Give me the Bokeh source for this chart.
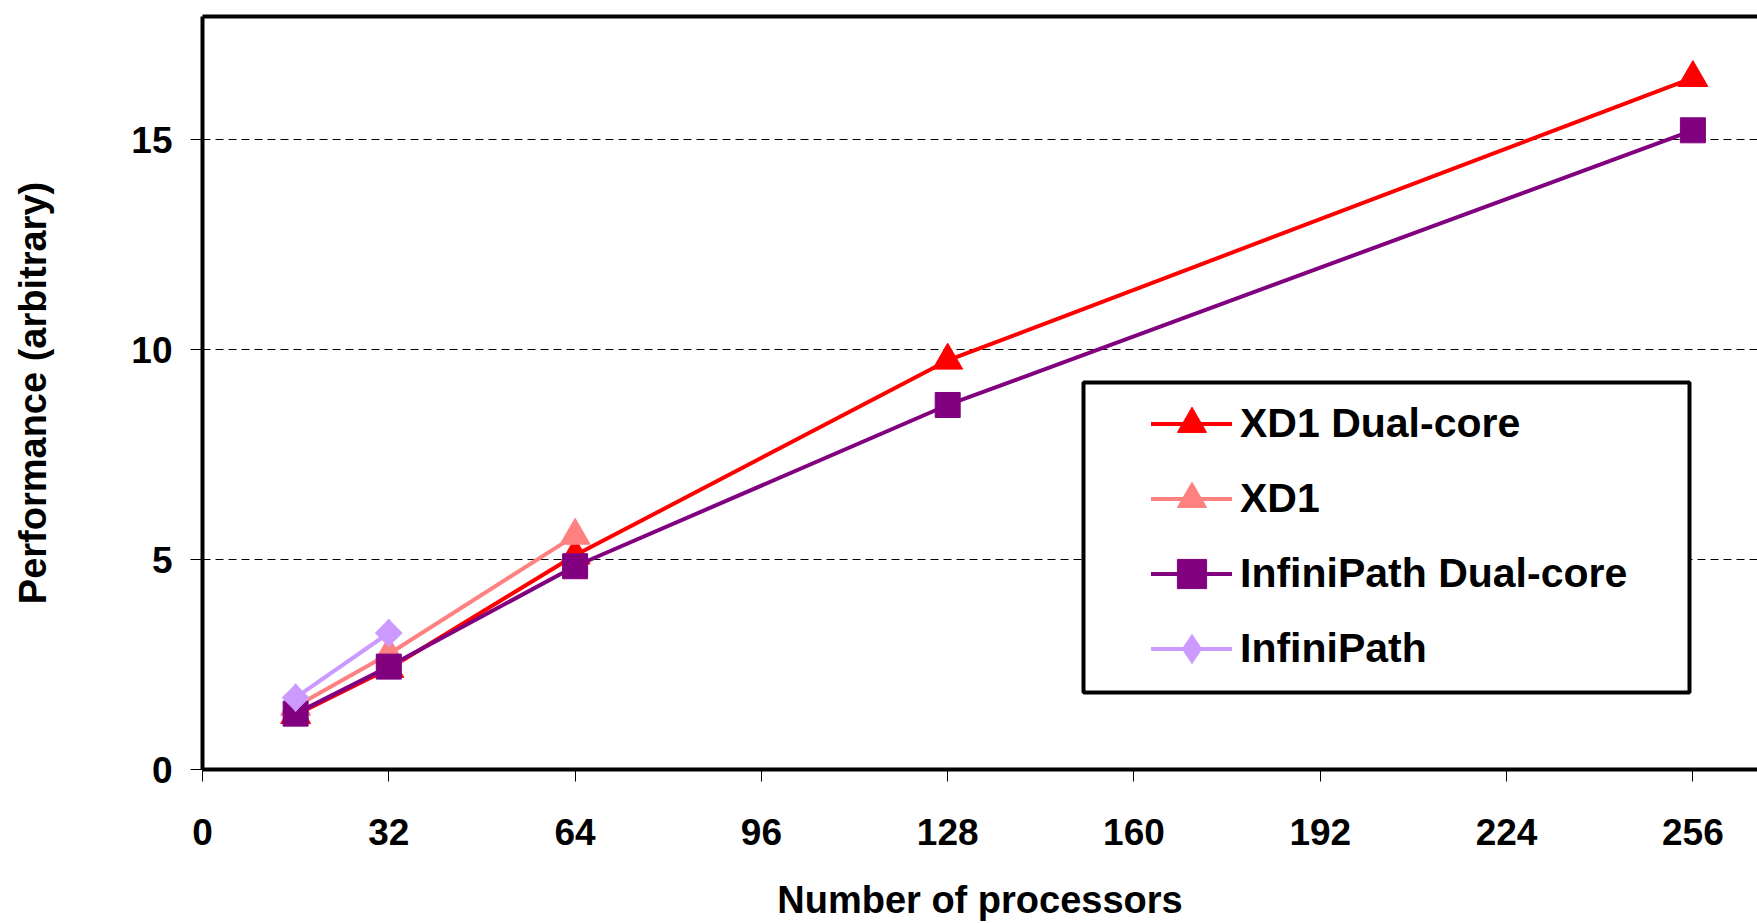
from bokeh.plotting import figure
from bokeh.models import Range1d, FixedTicker, LinearAxis, BoxAnnotation
from bokeh.embed import file_html
from bokeh.resources import INLINE

# ---- data ----
procs_dual = [16, 32, 64, 128, 256]
xd1_dual = [1.30, 2.40, 5.10, 9.74, 16.47]
ip_dual = [1.33, 2.45, 4.84, 8.68, 15.22]
procs_xd1 = [16, 32, 64]
xd1 = [1.50, 2.75, 5.57]
procs_ip = [16, 32]
ip = [1.71, 3.25]

x_ticks = [0, 32, 64, 96, 128, 160, 192, 224, 256]
y_ticks = [0, 5, 10, 15]

FONT = "Liberation Sans"

p = figure(width=1757, height=923, output_backend="svg", toolbar_location=None,
           x_range=Range1d(0, 267.1), y_range=Range1d(0, 17.93),
           min_border_left=202, min_border_right=0, min_border_top=16,
           min_border_bottom=153, x_axis_label="Number of processors",
           y_axis_label="Performance (arbitrary)")
p.outline_line_color = None
p.background_fill_color = "white"
p.border_fill_color = "white"

# axes
for ax in (p.xaxis[0], p.yaxis[0]):
    ax.axis_line_width = 4
    ax.axis_line_color = "black"
    ax.major_tick_line_color = "black"
    ax.major_tick_line_width = 1
    ax.major_tick_out = 12
    ax.major_tick_in = 0
    ax.minor_tick_line_color = None
    ax.major_label_text_font = FONT
    ax.major_label_text_font_style = "bold"
    ax.major_label_text_font_size = "37px"
    ax.major_label_text_color = "black"
    ax.axis_label_text_font = FONT
    ax.axis_label_text_font_style = "bold"
    ax.axis_label_text_color = "black"

p.xaxis[0].ticker = FixedTicker(ticks=x_ticks)
p.yaxis[0].ticker = FixedTicker(ticks=y_ticks)
p.xaxis[0].major_label_standoff = 37
p.xaxis[0].axis_label_standoff = 31
p.xaxis[0].axis_label_text_font_size = "38px"
p.yaxis[0].major_label_standoff = 18
p.yaxis[0].axis_label_standoff = 74
p.yaxis[0].axis_label_text_font_size = "38px"

top = LinearAxis(ticker=FixedTicker(ticks=[]), axis_line_width=4,
                 axis_line_color="black", major_tick_line_color=None,
                 minor_tick_line_color=None)
p.add_layout(top, "above")

p.xgrid.visible = False
p.ygrid.ticker = FixedTicker(ticks=[5, 10, 15])
p.ygrid.grid_line_color = "black"
p.ygrid.grid_line_width = 1
p.ygrid.grid_line_dash = "8 5"

# series
series = [
    ("XD1 Dual-core", procs_dual, xd1_dual, "#FF0000", "triangle", 30),
    ("XD1", procs_xd1, xd1, "#FF8080", "triangle", 30),
    ("InfiniPath Dual-core", procs_dual, ip_dual, "#800080", "square", 25),
    ("InfiniPath", procs_ip, ip, "#CC99FF", "diamond", 28),
]
for name, xs, ys, col, mk, sz in series:
    p.line(xs, ys, line_color=col, line_width=4, line_cap="round",
           line_join="round", legend_label=name)
    p.scatter(xs, ys, marker=mk, size=sz, fill_color=col, line_color=col,
              line_width=1, legend_label=name)
    if mk == "diamond":
        # wider diamond face (rotated square) drawn over the legend diamond
        p.scatter(xs, ys, marker="square", angle=0.7853982, size=19,
                  fill_color=col, line_color=col, line_width=1)

# legend frame
box = BoxAnnotation(left=881, right=1487, bottom=77, top=387,
                    left_units="screen", right_units="screen",
                    top_units="screen", bottom_units="screen",
                    fill_color="white", fill_alpha=1.0,
                    line_color="black", line_width=4, line_alpha=1.0)
p.add_layout(box)

leg = p.legend[0]
p.center.remove(leg)
p.add_layout(leg, "center")
leg.location = (949, 84)
leg.margin = 0
leg.padding = 0
leg.border_line_color = None
leg.background_fill_alpha = 0
leg.glyph_width = 81
leg.glyph_height = 73
leg.spacing = 2
leg.label_standoff = 8
leg.label_text_font = FONT
leg.label_text_font_style = "bold"
leg.label_text_font_size = "41px"
leg.label_text_color = "black"

open("out.html", "w").write(file_html(p, INLINE))
